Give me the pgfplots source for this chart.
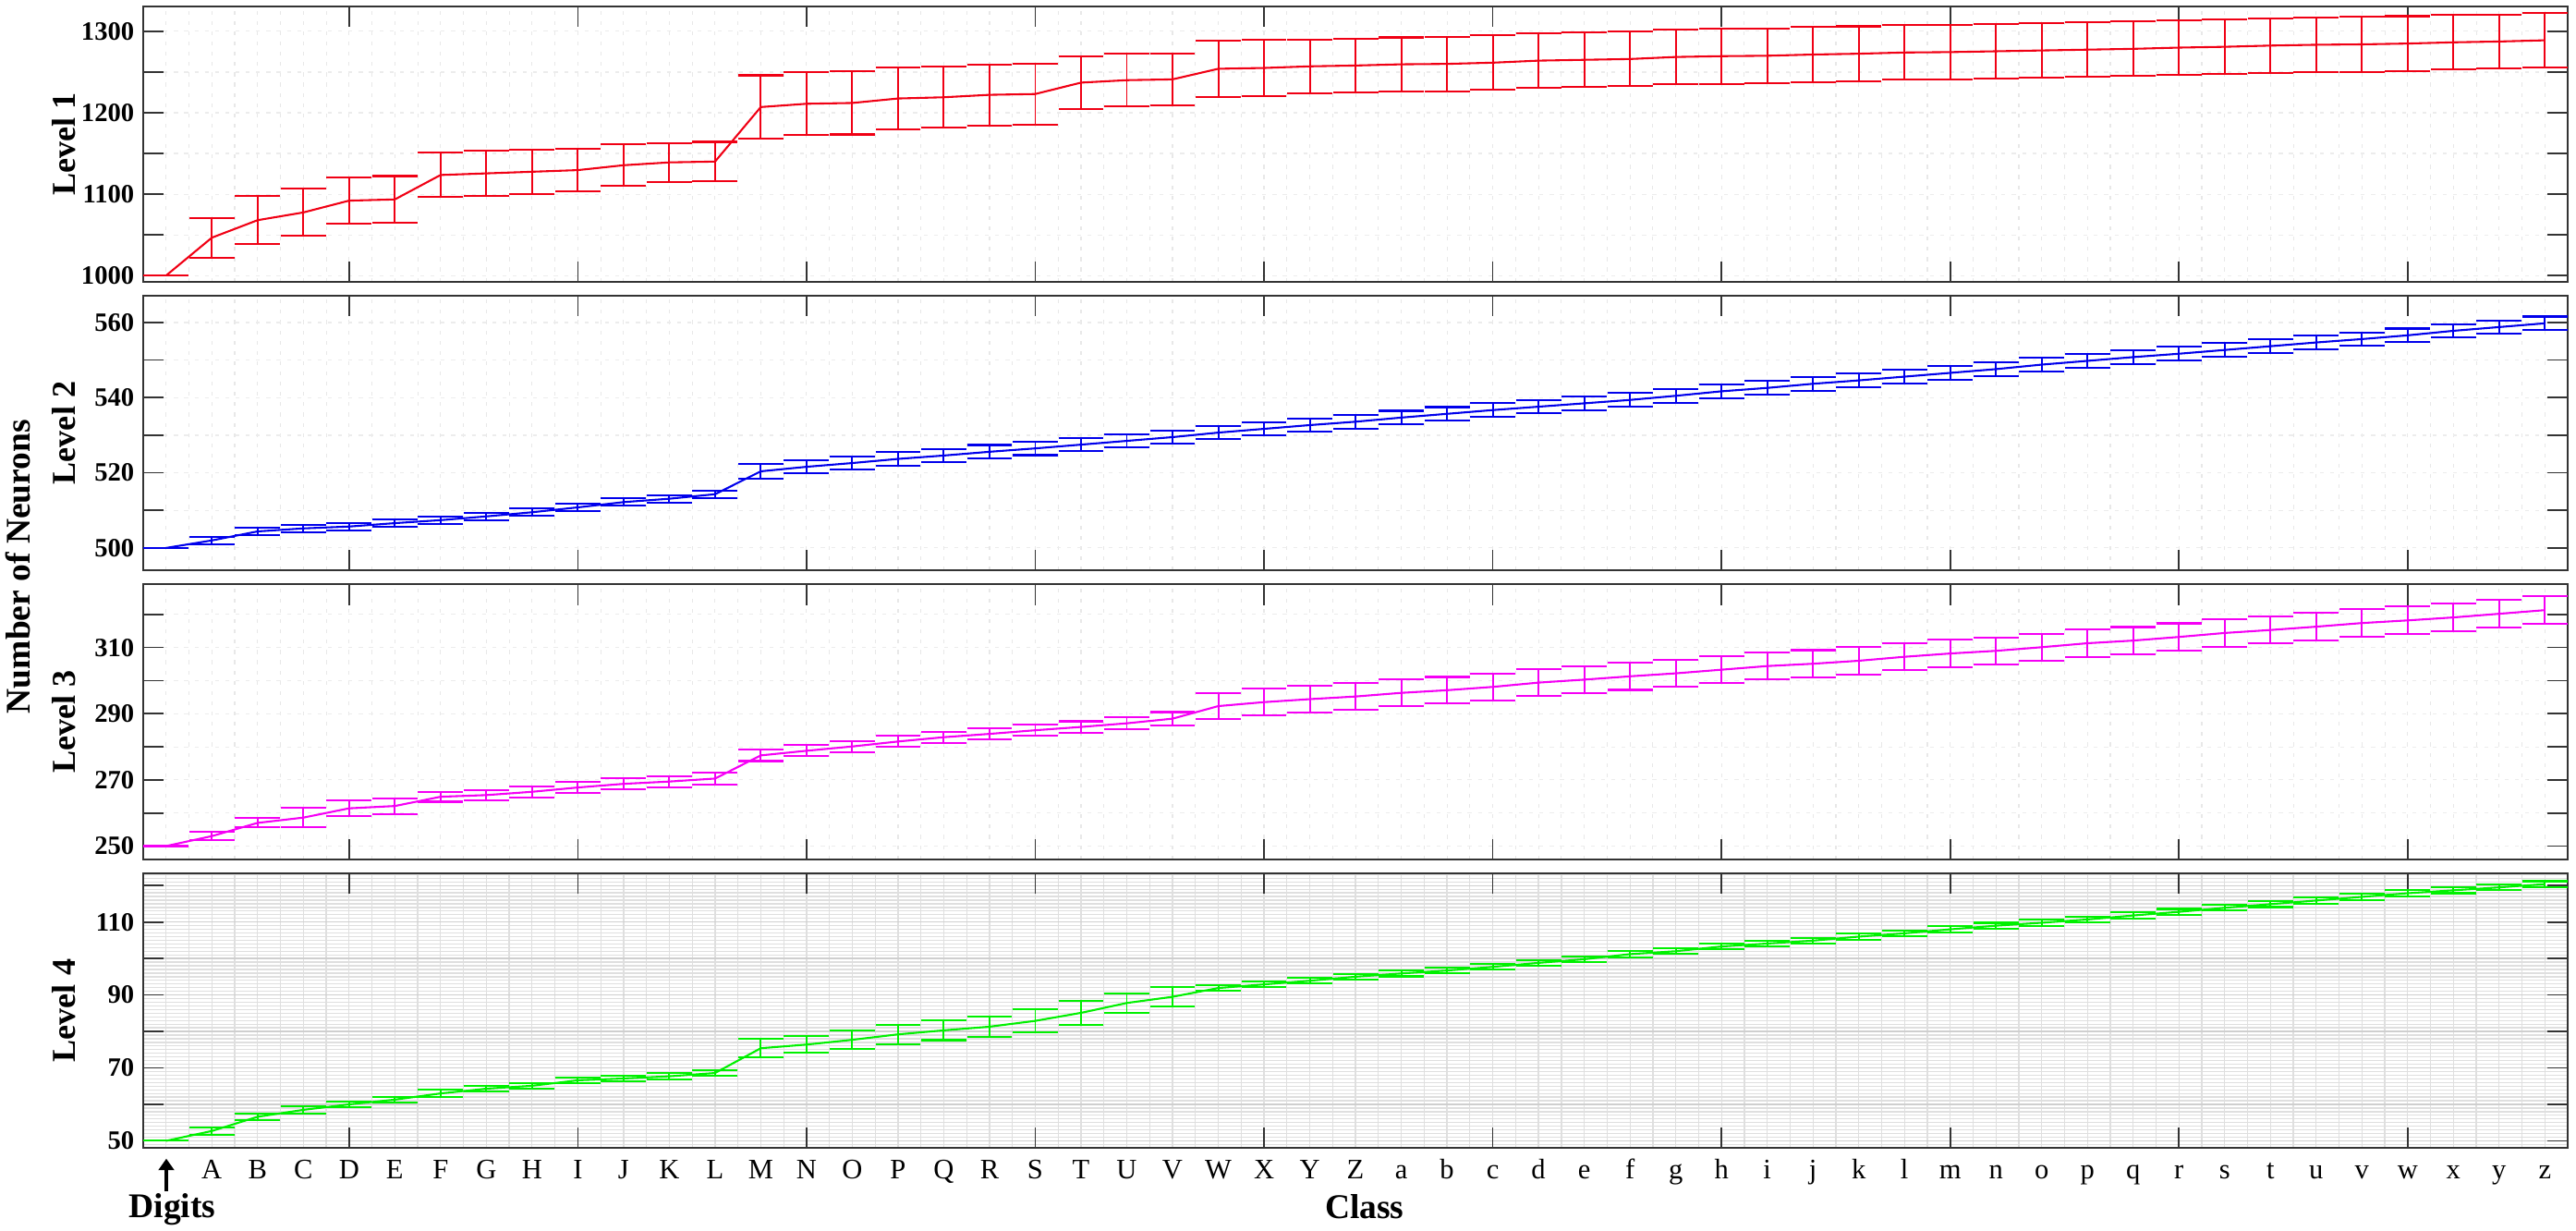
\documentclass[border=0pt]{standalone}
\usepackage{fontspec}
\setmainfont{Liberation Serif}
\usepackage{pgfplots}
\pgfplotsset{compat=1.18}
\usepackage{pgfplotstable}
\usetikzlibrary{arrows.meta}

\pgfplotstableread{
x y e
0 1000 0
1 1046.5 24.5
2 1068 29.3
3 1077.5 29
4 1092 28.7
5 1093.5 28.7
6 1123.5 27.2
7 1125.5 27.6
8 1127.5 27
9 1129.5 26.5
10 1135.5 25.7
11 1139 24
12 1140 24.2
13 1207 39
14 1211 38.7
15 1212 38.7
16 1217.5 37.8
17 1219 37.6
18 1222 37.4
19 1223 37.4
20 1237 32.5
21 1240 32.5
22 1241 32.1
23 1254 34.4
24 1255 34.4
25 1257 33
26 1258 33
27 1259.5 33
28 1260 33.6
29 1261.5 33.4
30 1264 33.8
31 1265 33.6
32 1266 33.4
33 1268.5 33.2
34 1269.5 34
35 1270 33.6
36 1271.5 33.6
37 1272.5 33.6
38 1274 33.6
39 1274.5 33.6
40 1275.5 33.8
41 1276.5 33.6
42 1277.5 33.6
43 1278.5 33.4
44 1280 33.4
45 1281 33.4
46 1282.5 33.4
47 1283.5 33.8
48 1284 33.6
49 1285 33.6
50 1286.5 33.4
51 1287.5 33.2
52 1289 33.4
}\tabA

\pgfplotstableread{
x y e
0 500 0
1 502.0 1.0
2 504.4 1.0
3 505.2 1.0
4 505.7 1.0
5 506.6 1.0
6 507.4 1.0
7 508.4 1.0
8 509.5 1.0
9 510.8 1.0
10 512.2 1.0
11 513.1 1.0
12 514.3 1.0
13 520.4 1.9
14 521.6 1.8
15 522.6 1.8
16 523.7 1.8
17 524.6 1.8
18 525.6 1.8
19 526.5 1.8
20 527.5 1.8
21 528.5 1.8
22 529.5 1.8
23 530.7 1.8
24 531.7 1.8
25 532.7 1.8
26 533.6 1.8
27 534.7 1.8
28 535.7 1.8
29 536.7 1.8
30 537.6 1.8
31 538.5 1.8
32 539.4 1.8
33 540.5 1.8
34 541.7 1.8
35 542.6 1.8
36 543.7 1.8
37 544.6 1.8
38 545.6 1.8
39 546.6 1.8
40 547.6 1.8
41 548.8 1.8
42 549.8 1.8
43 550.8 1.8
44 551.7 1.8
45 552.7 1.8
46 553.7 1.8
47 554.7 1.8
48 555.6 1.8
49 556.6 1.8
50 557.8 1.8
51 558.8 1.8
52 559.8 1.8
}\tabB

\pgfplotstableread{
x y e
0 250 0
1 253.0 1.2
2 257.0 1.4
3 258.6 3.0
4 261.4 2.3
5 262.1 2.4
6 264.9 1.5
7 265.4 1.6
8 266.4 1.7
9 267.7 1.6
10 268.8 1.6
11 269.5 1.7
12 270.4 1.8
13 277.4 1.7
14 278.8 1.7
15 280.1 1.7
16 281.6 1.7
17 282.9 1.7
18 283.9 1.7
19 285.0 1.7
20 286.0 1.7
21 287.1 1.8
22 288.5 2.0
23 292.3 3.9
24 293.5 4.0
25 294.4 4.0
26 295.2 4.0
27 296.3 4.0
28 297.1 4.0
29 298.1 4.0
30 299.4 4.0
31 300.3 4.1
32 301.3 4.1
33 302.2 4.1
34 303.3 4.1
35 304.4 4.1
36 305.1 4.1
37 306.0 4.1
38 307.2 4.1
39 308.2 4.1
40 309.0 4.1
41 310.1 4.1
42 311.3 4.1
43 312.1 4.1
44 313.2 4.1
45 314.4 4.1
46 315.3 4.1
47 316.3 4.2
48 317.4 4.2
49 318.2 4.2
50 319.1 4.2
51 320.2 4.2
52 321.3 4.2
}\tabC

\pgfplotstableread{
x y e
0 50 0
1 52.7 1.0
2 56.6 0.8
3 58.5 1.0
4 60.0 0.8
5 61.3 0.8
6 63.0 1.0
7 64.3 0.8
8 65.1 0.8
9 66.6 0.8
10 67.1 0.8
11 67.7 0.8
12 68.6 0.8
13 75.4 2.5
14 76.4 2.3
15 77.7 2.5
16 79.2 2.7
17 80.3 2.7
18 81.3 2.7
19 82.9 3.2
20 85.1 3.2
21 87.8 2.7
22 89.5 2.7
23 91.9 0.8
24 92.9 0.8
25 93.9 0.8
26 95.0 0.8
27 95.9 0.8
28 96.7 0.8
29 97.7 0.8
30 98.8 0.8
31 99.8 0.8
32 101.2 0.8
33 102.0 0.8
34 103.3 0.8
35 104.1 0.8
36 104.9 0.8
37 106.0 0.8
38 106.9 0.8
39 108.0 0.8
40 109.0 0.8
41 109.8 0.8
42 110.7 0.8
43 111.8 0.8
44 112.8 0.8
45 113.9 0.8
46 114.9 0.8
47 115.9 0.8
48 116.9 0.8
49 117.9 0.8
50 118.7 0.8
51 119.5 0.8
52 120.4 0.8
}\tabD

\pgfplotsset{
  panel/.style={
    scale only axis, width=944.6pt, height=107.1pt,
    xmin=-0.5, xmax=52.5,
    xtick={4,9,...,49}, xticklabels={},
    tick align=inside, major tick length=8pt, minor tick length=0pt,
    axis line style={line width=0.7pt, black!80},
    tick style={line width=0.6pt, black!80},
    minor xtick={0,0.5,...,52.5},
    yticklabel style={font=\fontsize{10.3}{12}\selectfont\bfseries},
    ylabel style={at={(axis description cs:-0.0326,0.5)}, anchor=center,
                  font=\fontsize{13}{15}\selectfont\bfseries},
  },
  faint/.style={xminorgrids=true, ymajorgrids=true,
    minor grid style={gray!18, line width=0.4pt, dash pattern=on 1.5pt off 2.5pt},
    major grid style={gray!15, line width=0.4pt, dash pattern=on 1.5pt off 2.5pt}},
  errplot/.style={line width=0.75pt, no markers,
    error bars/.cd, y dir=both, y explicit,
    error bar style={line width=0.7pt},
    error mark options={rotate=90, mark size=8.8pt, line width=0.75pt}},
}

\begin{document}
\begin{tikzpicture}
\begin{axis}[panel, faint, name=p1, at={(0,0)}, anchor=north west,
  ymin=992.5, ymax=1330.3, ytick={1000,1050,...,1300},
  yticklabels={1000,,1100,,1200,,1300}, ylabel={Level 1}]
\addplot[color={rgb,255:red,240;green,0;blue,20}, errplot] table[x=x,y=y,y error=e]{\tabA};
\end{axis}

\begin{axis}[panel, faint, name=p2, at={(0,-112.5pt)}, anchor=north west,
  ymin=494, ymax=567.2, ytick={500,510,...,560},
  yticklabels={500,,520,,540,,560}, ylabel={Level 2}]
\addplot[color={rgb,255:red,0;green,0;blue,235}, errplot] table[x=x,y=y,y error=e]{\tabB};
\end{axis}

\begin{axis}[panel, faint, name=p3, at={(0,-225pt)}, anchor=north west,
  ymin=246, ymax=329.1, ytick={250,260,...,320},
  yticklabels={250,,270,,290,,310,}, ylabel={Level 3}]
\addplot[color={rgb,255:red,245;green,0;blue,245}, errplot] table[x=x,y=y,y error=e]{\tabC};
\end{axis}

\begin{axis}[panel, name=p4, at={(0,-337.5pt)}, anchor=north west,
  ymin=48, ymax=123.4, ytick={50,60,...,120},
  yticklabels={50,,70,,90,,110,}, ylabel={Level 4},
  minor ytick={48,49,...,123},
  xminorgrids=true, yminorgrids=true, ymajorgrids=true,
  minor grid style={gray!25, line width=0.45pt},
  major grid style={gray!38, line width=0.5pt},
  extra x ticks={1,2,...,52},
  extra x tick labels={A,B,C,D,E,F,G,H,I,J,K,L,M,N,O,P,Q,R,S,T,U,V,W,X,Y,Z,a,b,c,d,e,f,g,h,i,j,k,l,m,n,o,p,q,r,s,t,u,v,w,x,y,z},
  extra x tick style={tick style={draw=none}},
  xticklabel style={anchor=base, yshift=-11.8pt, font=\fontsize{11}{13}\selectfont}]
\addplot[color={rgb,255:red,0;green,240;blue,0}, errplot] table[x=x,y=y,y error=e]{\tabD};
\end{axis}

\node[rotate=90, anchor=center, font=\fontsize{13.5}{16}\selectfont\bfseries]
  at ([xshift=-48.6pt, yshift=1.5pt]p2.south west) {Number of Neurons};
\draw[line width=1.1pt, -{Triangle[length=4.5pt,width=6pt]}]
  ([xshift=9pt, yshift=-16.7pt]p4.south west) -- ([xshift=9pt, yshift=-4.1pt]p4.south west);
\node[anchor=base, font=\fontsize{13.5}{16}\selectfont\bfseries, inner sep=0pt]
  at ([xshift=11.3pt, yshift=-27.2pt]p4.south west) {Digits};
\node[anchor=base, font=\fontsize{13.5}{16}\selectfont\bfseries, inner sep=0pt]
  at ([xshift=3.5pt, yshift=-27.4pt]p4.south) {Class};

\pgfresetboundingbox
\path[use as bounding box] ([xshift=-55.8pt,yshift=2.6pt]p1.north west)
  rectangle ([xshift=3.2pt,yshift=-32.1pt]p4.south east);
\end{tikzpicture}
\end{document}
